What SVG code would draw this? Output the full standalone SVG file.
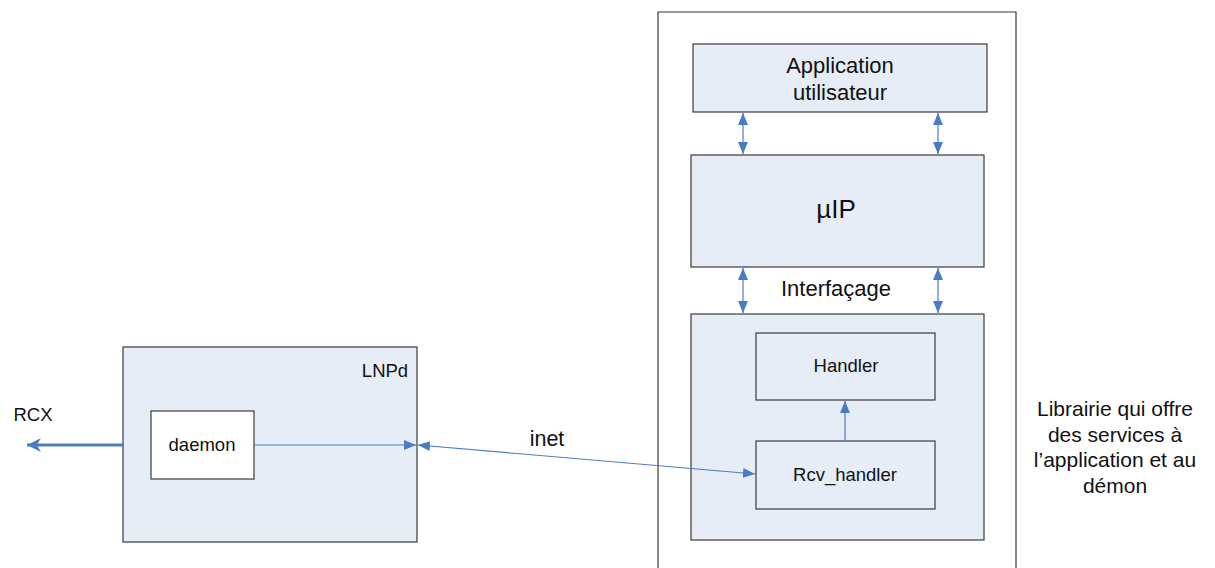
<svg xmlns="http://www.w3.org/2000/svg" width="1215" height="568" viewBox="0 0 1215 568">
<style>
.box{fill:#e6edf7;stroke:#3a3a3a;stroke-width:1.2}
.wbox{fill:#ffffff;stroke:#3a3a3a;stroke-width:1.2}
.t{font-family:"Liberation Sans",Arial,sans-serif;fill:#111;text-anchor:middle}
.c{stroke:#4a7cc4;stroke-width:1.2;fill:none}
</style>
<defs>
<marker id="ah" viewBox="0 0 12 10" refX="12" refY="5" markerWidth="12" markerHeight="10" markerUnits="userSpaceOnUse" orient="auto-start-reverse"><path d="M0,0 L12,5 L0,10 z" fill="#4a7cc4"/></marker>
<marker id="ahb" viewBox="0 0 10 10" refX="10" refY="5" markerWidth="14" markerHeight="14" markerUnits="userSpaceOnUse" orient="auto"><path d="M0,0 L10,5 L0,10 L3,5 z" fill="#4a7cc4"/></marker>
</defs>
<rect width="1215" height="568" fill="#ffffff"/>
<g id="library">
<path d="M658,568 V12 H1016 V568" fill="none" stroke="#3a3a3a" stroke-width="1.2"/>
</g>
<g id="app"><rect class="box" x="693" y="44" width="294" height="68"/>
<text class="t" x="840" y="73" font-size="22">Application</text>
<text class="t" x="840" y="100" font-size="22">utilisateur</text></g>
<g id="uip"><rect class="box" x="691" y="155" width="293" height="112"/>
<text class="t" x="836" y="218" font-size="26">µIP</text></g>
<g id="iface"><rect class="box" x="691" y="314" width="293" height="226"/></g>
<g id="handler"><rect class="box" x="756" y="333" width="179" height="67"/>
<text class="t" x="846" y="372" font-size="18.5">Handler</text></g>
<g id="rcv"><rect class="box" x="756" y="441" width="179" height="68"/>
<text class="t" x="845" y="481" font-size="18.5">Rcv_handler</text></g>
<g id="lnpd"><rect class="box" x="123" y="347" width="294" height="195"/>
<text class="t" x="385" y="377" font-size="18.5">LNPd</text></g>
<g id="daemon"><rect class="wbox" x="151" y="411" width="103" height="68"/>
<text class="t" x="202" y="451" font-size="18.5">daemon</text></g>
<g id="labels">
<text class="t" x="33" y="421" font-size="18.5">RCX</text>
<text class="t" x="547" y="446" font-size="21.5">inet</text>
<text class="t" x="836" y="296" font-size="22">Interfaçage</text>
<text class="t" x="1115" y="416" font-size="21">Librairie qui offre</text>
<text class="t" x="1115" y="442" font-size="21">des services à</text>
<text class="t" x="1115" y="467" font-size="21">l’application et au</text>
<text class="t" x="1115" y="493" font-size="21">démon</text>
</g>
<g id="connectors">
<line class="c" x1="743" y1="113" x2="743" y2="154" marker-start="url(#ah)" marker-end="url(#ah)"/>
<line class="c" x1="938" y1="113" x2="938" y2="154" marker-start="url(#ah)" marker-end="url(#ah)"/>
<line class="c" x1="743" y1="268" x2="743" y2="313" marker-start="url(#ah)" marker-end="url(#ah)"/>
<line class="c" x1="938" y1="268" x2="938" y2="313" marker-start="url(#ah)" marker-end="url(#ah)"/>
<line class="c" x1="845" y1="441" x2="845" y2="401" marker-end="url(#ah)"/>
<line class="c" x1="254" y1="445" x2="416" y2="445" marker-end="url(#ah)"/>
<line class="c" x1="418" y1="445" x2="755" y2="474" marker-start="url(#ah)" marker-end="url(#ah)"/>
<line x1="123" y1="445" x2="27" y2="445" stroke="#4a7cc4" stroke-width="3" marker-end="url(#ahb)"/>
</g>
</svg>
